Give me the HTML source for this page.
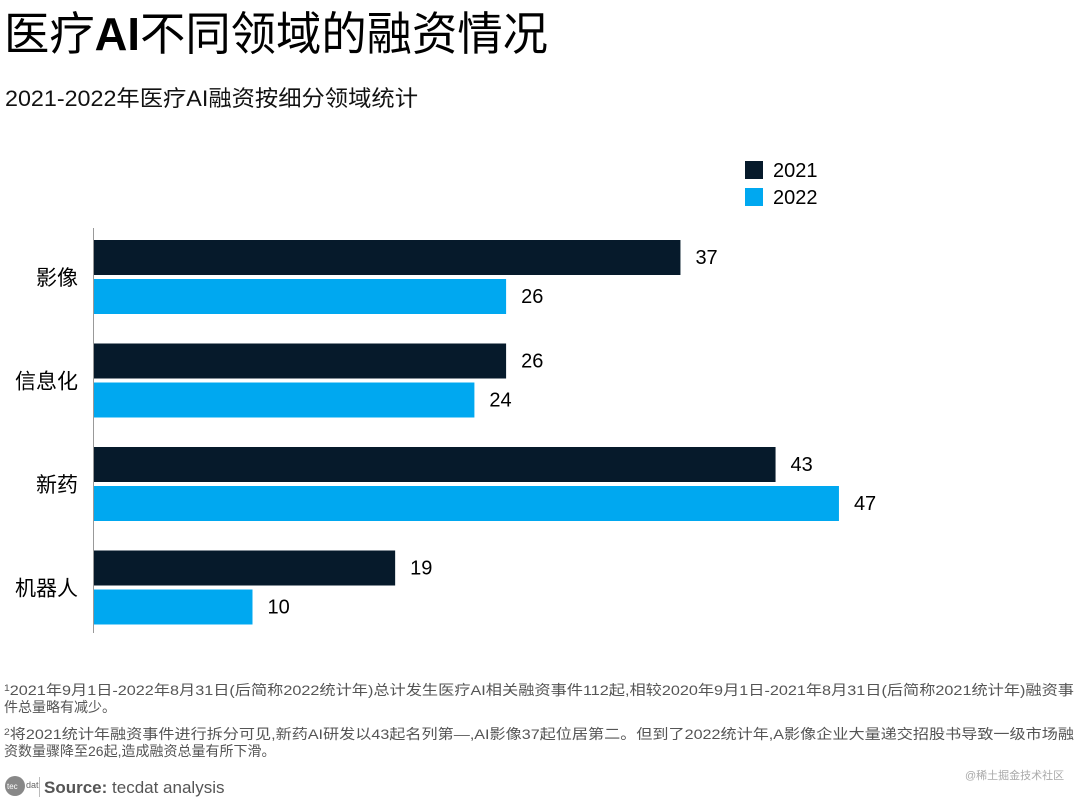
<!DOCTYPE html>
<html><head><meta charset="utf-8"><style>
html,body{margin:0;padding:0;background:#fff;}
svg{display:block;font-family:"Liberation Sans","Noto Sans CJK SC",sans-serif;}
</style></head><body>
<svg id="chart" width="1080" height="802" viewBox="0 0 1080 802">
<text x="4" y="50" font-size="46" fill="#000" textLength="544" lengthAdjust="spacingAndGlyphs">医疗<tspan font-weight="bold">AI</tspan>不同领域的融资情况</text>
<text x="5" y="106" font-size="22" fill="#111" textLength="413" lengthAdjust="spacingAndGlyphs">2021-2022年医疗AI融资按细分领域统计</text>
<g>
<rect x="745" y="161" width="18" height="18" fill="#061a2b"/>
<text x="773" y="177" font-size="20" fill="#000">2021</text>
<rect x="745" y="188" width="18" height="18" fill="#00a8f0"/>
<text x="773" y="204" font-size="20" fill="#000">2022</text>
</g>
<g id="plot"></g>
<line x1="93.5" y1="228" x2="93.5" y2="633" stroke="#999" stroke-width="1"/>
<g font-size="14" fill="#555">
<text x="4" y="695" textLength="1070" lengthAdjust="spacingAndGlyphs"><tspan font-size="9" dy="-4">1</tspan><tspan dy="4">2021年9月1日-2022年8月31日(后简称2022统计年)总计发生医疗AI相关融资事件112起,相较2020年9月1日-2021年8月31日(后简称2021统计年)融资事</tspan></text>
<text x="4" y="712">件总量略有减少。</text>
<text x="4" y="739" textLength="1070" lengthAdjust="spacingAndGlyphs"><tspan font-size="9" dy="-4">2</tspan><tspan dy="4">将2021统计年融资事件进行拆分可见,新药AI研发以43起名列第—,AI影像37起位居第二。但到了2022统计年,A影像企业大量递交招股书导致一级市场融</tspan></text>
<text x="4" y="756">资数量骤降至26起,造成融资总量有所下滑。</text>
</g>
<g>
<circle cx="15" cy="786" r="10" fill="#888"/>
<text x="7" y="789" font-size="8" fill="#fff">tec</text>
<text x="26" y="788" font-size="9" fill="#666">dat</text>
<line x1="39.5" y1="777" x2="39.5" y2="797" stroke="#bbb"/>
<text x="44" y="793" font-size="17" fill="#555"><tspan font-weight="bold">Source:</tspan> tecdat analysis</text>
</g>
<text x="965" y="779" font-size="11" fill="#aaa">@稀土掘金技术社区</text>
</svg>
<script>
const categories = ["影像", "信息化", "新药", "机器人"];
const values2021 = [37, 26, 43, 19];
const values2022 = [26, 24, 47, 10];
const seriesColors = ["#061a2b", "#00a8f0"];
const x0 = 94, pxPerUnit = 15.85;
const xScale = v => x0 + v * pxPerUnit;
const groupTop = i => 240 + i * 103.5;
const barH = 35, barGap = 4;
const NS = "http://www.w3.org/2000/svg";
const plot = document.getElementById("plot");
categories.forEach((c, i) => {
  const t = document.createElementNS(NS, "text");
  
  
  t.setAttribute("x", 78); t.setAttribute("y", groupTop(i) + barH + barGap/2 + 8);
  t.setAttribute("text-anchor", "end"); t.setAttribute("font-size", "21"); t.setAttribute("fill", "#000");
  t.textContent = c; plot.appendChild(t);
  [values2021, values2022].forEach((arr, s) => {
    const y = groupTop(i) + s * (barH + barGap);
    const r = document.createElementNS(NS, "rect");
    
    
    r.setAttribute("x", x0); r.setAttribute("y", y);
    r.setAttribute("width", xScale(arr[i]) - x0); r.setAttribute("height", barH);
    r.setAttribute("fill", seriesColors[s]); plot.appendChild(r);
    const l = document.createElementNS(NS, "text");
    
    
    l.setAttribute("x", xScale(arr[i]) + 15); l.setAttribute("y", y + 17 + 7);
    l.setAttribute("font-size", "20"); l.setAttribute("fill", "#000");
    l.textContent = arr[i]; plot.appendChild(l);
  });
});
</script>
</body></html>
